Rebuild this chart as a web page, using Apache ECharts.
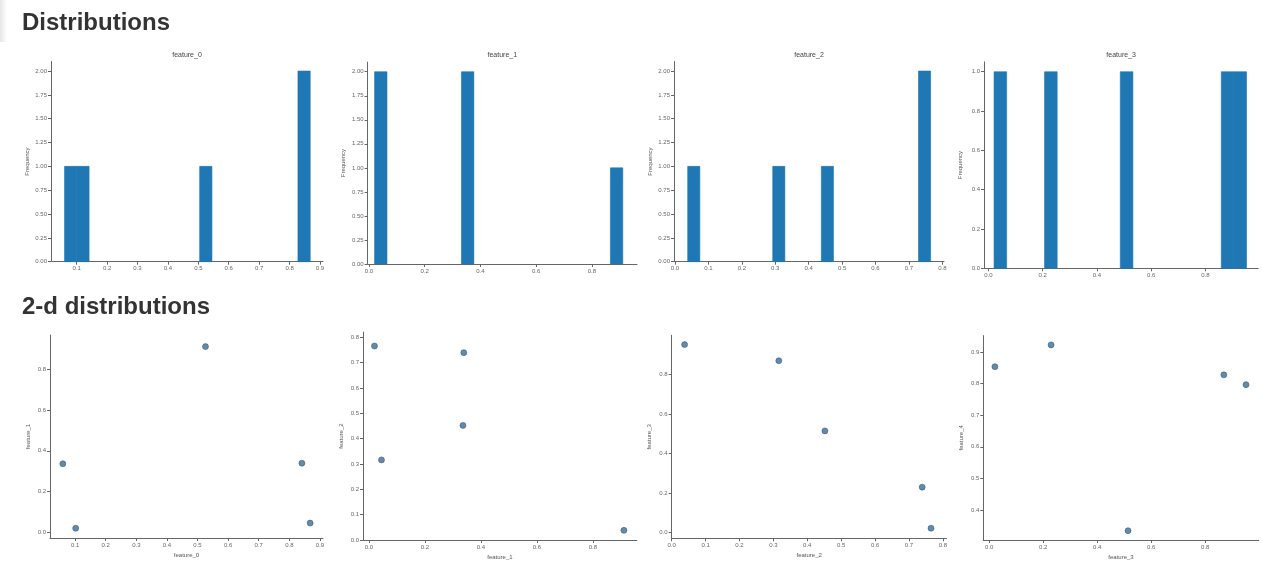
<!DOCTYPE html>
<html>
<head>
<meta charset="utf-8">
<script src="https://cdn.jsdelivr.net/npm/echarts@6/dist/echarts.min.js"></script>
<style>
  html, body { margin: 0; background: #fff; }
  #main { width: 1262px; height: 561px; }
</style>
</head>
<body>
<div id="main"></div>
<script>
var featureNames = ['feature_0', 'feature_1', 'feature_2', 'feature_3', 'feature_4'];

// five samples, one value per sample
var feature0 = [0.060, 0.102, 0.526, 0.841, 0.868];
var feature1 = [0.336, 0.020, 0.911, 0.339, 0.045];
var feature2 = [0.452, 0.765, 0.038, 0.739, 0.316];
var feature3 = [0.514, 0.021, 0.951, 0.229, 0.869];
var feature4 = [0.334, 0.854, 0.797, 0.923, 0.828];
var features = [feature0, feature1, feature2, feature3, feature4];

// histogram counts, 20 bins between min and max of each feature
var histCounts0 = [1, 1, 0, 0, 0, 0, 0, 0, 0, 0, 0, 1, 0, 0, 0, 0, 0, 0, 0, 2];
var histCounts1 = [2, 0, 0, 0, 0, 0, 0, 2, 0, 0, 0, 0, 0, 0, 0, 0, 0, 0, 0, 1];
var histCounts2 = [1, 0, 0, 0, 0, 0, 0, 1, 0, 0, 0, 1, 0, 0, 0, 0, 0, 0, 0, 2];
var histCounts3 = [1, 0, 0, 0, 1, 0, 0, 0, 0, 0, 1, 0, 0, 0, 0, 0, 0, 0, 1, 1];
var histCounts = [histCounts0, histCounts1, histCounts2, histCounts3];

// tick labels
var ticksFrom01 = [0.1, 0.2, 0.3, 0.4, 0.5, 0.6, 0.7, 0.8, 0.9];
var ticksStep01 = [0, 0.1, 0.2, 0.3, 0.4, 0.5, 0.6, 0.7, 0.8];
var ticksStep02 = [0, 0.2, 0.4, 0.6, 0.8];
var ticksFreq2 = [0, 0.25, 0.5, 0.75, 1, 1.25, 1.5, 1.75, 2];
var ticksFreq1 = [0, 0.2, 0.4, 0.6, 0.8, 1];
var ticksHigh = [0.4, 0.5, 0.6, 0.7, 0.8, 0.9];

// panel layout (px) and axis extents
var histPanels = [
  { left: 51, top: 61.5, width: 272, height: 200.2, x: [0.0155, 0.910], y: [0, 2.1], xt: ticksFrom01, yt: ticksFreq2, yd: 2 },
  { left: 367.6, top: 62.1, width: 269.4, height: 201.9, x: [-0.005, 0.962], y: [0, 2.1], xt: ticksStep02, yt: ticksFreq2, yd: 2 },
  { left: 674, top: 61.5, width: 270, height: 200.2, x: [-0.003, 0.805], y: [0, 2.1], xt: ticksStep01, yt: ticksFreq2, yd: 2 },
  { left: 984, top: 61.9, width: 274.2, height: 206.4, x: [-0.016, 0.994], y: [0, 1.05], xt: ticksStep02, yt: ticksFreq1, yd: 1 }
];
var scatterPanels = [
  { left: 50, top: 335, width: 273, height: 203, x: [0.018, 0.910], y: [-0.028, 0.968], xt: ticksFrom01, yt: ticksStep02 },
  { left: 363, top: 332.1, width: 273.8, height: 211.2, x: [-0.021, 0.957], y: [0, 0.82], xt: ticksStep02, yt: ticksStep01 },
  { left: 671.7, top: 335.3, width: 274.9, height: 203, x: [0, 0.811], y: [-0.03, 0.998], xt: ticksStep01, yt: ticksStep02 },
  { left: 983.3, top: 335.6, width: 275.4, height: 205.7, x: [-0.022, 0.998], y: [0.3045, 0.9525], xt: ticksStep02, yt: ticksHigh }
];

var myChart = echarts.init(document.getElementById('main'));

function makeAxis(gridIndex, range, ticks, dec, name, nameGap) {
  return {
    type: 'value',
    gridIndex: gridIndex,
    min: range[0],
    max: range[1],
    splitLine: { show: false },
    axisLine: { onZero: false, lineStyle: { color: '#666', width: 1 } },
    axisTick: { length: 3, customValues: ticks, lineStyle: { color: '#666' } },
    axisLabel: {
      customValues: ticks,
      fontSize: 6,
      color: '#666',
      margin: 4,
      fontFamily: 'Liberation Sans',
      formatter: function (v) { return v.toFixed(dec); }
    },
    name: name,
    nameLocation: 'middle',
    nameGap: nameGap,
    nameTextStyle: { fontSize: 6, color: '#555', fontFamily: 'Liberation Sans' }
  };
}

function renderBin(params, api) {
  var p0 = api.coord([api.value(0), 0]);
  var p1 = api.coord([api.value(1), api.value(2)]);
  return {
    type: 'rect',
    shape: { x: p0[0], y: p1[1], width: p1[0] - p0[0], height: p0[1] - p1[1] },
    style: { fill: '#1f77b4', stroke: '#1f77b4', lineWidth: 0.6 }
  };
}

var grids = [], xAxes = [], yAxes = [], series = [];
var graphics = [
  { type: 'rect', left: 0, top: 0, shape: { x: 0, y: 0, width: 7, height: 42 },
    style: { fill: new echarts.graphic.LinearGradient(0, 0, 1, 0, [
      { offset: 0, color: '#e6e6e6' }, { offset: 1, color: '#ffffff' }]) } },
  { type: 'text', x: 22, y: 11, style: { text: 'Distributions', fontSize: 24, fontWeight: 'bold',
    fontFamily: 'Liberation Sans', fill: '#333' } },
  { type: 'text', x: 22, y: 295, style: { text: '2-d distributions', fontSize: 24, fontWeight: 'bold',
    fontFamily: 'Liberation Sans', fill: '#333' } }
];

histPanels.forEach(function (p, i) {
  var idx = grids.length;
  grids.push({ left: p.left, top: p.top, width: p.width, height: p.height });
  xAxes.push(makeAxis(idx, p.x, p.xt, 1, '', 0));
  yAxes.push(makeAxis(idx, p.y, p.yt, p.yd, 'Frequency', 21));

  var vals = features[i];
  var lo = Math.min.apply(null, vals), hi = Math.max.apply(null, vals);
  var w = (hi - lo) / histCounts[i].length;
  var bins = [];
  histCounts[i].forEach(function (c, k) {
    if (c > 0) bins.push([lo + k * w, lo + (k + 1) * w, c]);
  });
  series.push({
    type: 'custom', xAxisIndex: idx, yAxisIndex: idx,
    renderItem: renderBin, encode: { x: [0, 1], y: 2 }, data: bins, silent: true
  });

  graphics.push({ type: 'text', x: p.left + p.width / 2, y: 55,
    style: { text: featureNames[i], fontSize: 7, fill: '#444', align: 'center', verticalAlign: 'middle',
      fontFamily: 'Liberation Sans' } });
});

scatterPanels.forEach(function (p, i) {
  var idx = grids.length;
  grids.push({ left: p.left, top: p.top, width: p.width, height: p.height });
  xAxes.push(makeAxis(idx, p.x, p.xt, 1, featureNames[i], 14));
  yAxes.push(makeAxis(idx, p.y, p.yt, 1, featureNames[i + 1], 19));
  series.push({
    type: 'scatter', xAxisIndex: idx, yAxisIndex: idx,
    symbolSize: 6,
    itemStyle: { color: '#3a6d99', borderColor: '#2c4a66', borderWidth: 0.6 },
    data: features[i].map(function (v, k) { return [v, features[i + 1][k]]; })
  });
});

var option = {
  animation: false,
  backgroundColor: '#fff',
  grid: grids,
  xAxis: xAxes,
  yAxis: yAxes,
  series: series,
  graphic: graphics
};

option && myChart.setOption(option);
</script>
</body>
</html>
